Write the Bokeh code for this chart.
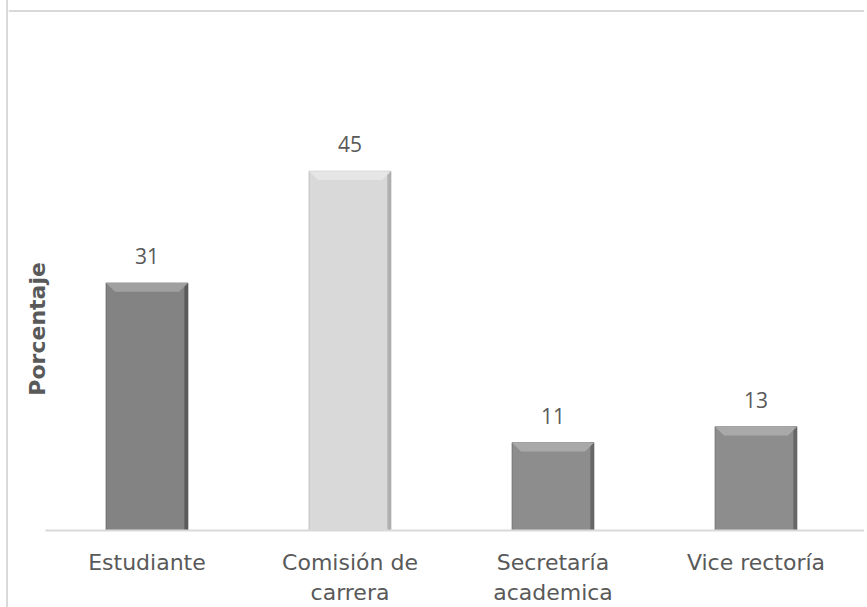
from bokeh.plotting import figure
from bokeh.models import ColumnDataSource, LabelSet, Label, Range1d, FixedTicker, Span
from bokeh.embed import file_html
from bokeh.resources import INLINE
from bokeh.core.properties import value

categories = ["Estudiante", "Comisión de\ncarrera", "Secretaría\nacademica", "Vice rectoría"]
values = [31, 45, 11, 13]
colors = ["#838383", "#d9d9d9", "#8d8d8d", "#8d8d8d"]
top_colors = ["#a0a0a0", "#e6e6e6", "#a9a9a9", "#a9a9a9"]
edge_colors = ["#555555", "#a8a8a8", "#606060", "#606060"]
axis_label = "Porcentaje"

xs = [i + 0.5 for i in range(len(categories))]
bar_w = 0.404
bev_y = 1.1          # bevel height (value units)
bev_x = 9 / 203      # bevel inset (category units)

src = ColumnDataSource(dict(
    x=xs, top=values, color=colors, ecolor=edge_colors,
    eleft=[x + bar_w / 2 - 0.018 for x in xs],
    right=[x + bar_w / 2 for x in xs],
    label=[str(v) for v in values],
))
bev = ColumnDataSource(dict(
    xs=[[x - bar_w / 2, x + bar_w / 2, x + bar_w / 2 - bev_x, x - bar_w / 2 + bev_x] for x in xs],
    ys=[[v, v, v - bev_y, v - bev_y] for v in values],
    color=top_colors,
))

W = 858
x0 = -37 / 203
x1 = x0 + W / 203
y1 = 522 / 8
p = figure(width=W, height=607, output_backend="svg", toolbar_location=None,
           x_range=Range1d(x0, x1), y_range=Range1d(0, y1),
           min_border_left=0, min_border_right=0, min_border_top=9,
           min_border_bottom=76)
p.styles = {"margin-left": "6px", "border-left": "2px solid #d9d9d9"}

p.vbar(x="x", top="top", bottom=0, width=bar_w, fill_color="color",
       line_color="ecolor", line_width=1, line_alpha=0.6, source=src)
p.quad(left="eleft", right="right", top="top", bottom=0,
       fill_color="ecolor", line_color=None, fill_alpha=0.85, source=src)
p.patches(xs="xs", ys="ys", fill_color="color", line_color=None, source=bev)

labels = LabelSet(x="x", y="top", text="label", source=src, y_offset=19,
                  text_align="center", text_baseline="alphabetic",
                  text_font=value("Open Sans"), text_font_size="21px",
                  text_color="#595959")
p.add_layout(labels)

p.add_layout(Label(x=(37 - 45) / 203, y=(531 - 329) / 8,
                   text=axis_label, angle=1.5708, text_align="center",
                   text_baseline="middle", text_font="DejaVu Sans",
                   text_font_style="bold", text_font_size="22px",
                   text_color="#595959"))

# chart-area border (top)
p.add_layout(Span(location=y1 - 1.5 / 8, dimension="width",
                  line_color="#d9d9d9", line_width=2))

p.xaxis.ticker = FixedTicker(ticks=xs)
p.xaxis.major_label_overrides = {x: c for x, c in zip(xs, categories)}
p.xaxis.bounds = (0, x1)
p.xaxis.major_tick_line_color = None
p.xaxis.minor_tick_line_color = None
p.xaxis.axis_line_color = "#d9d9d9"
p.xaxis.axis_line_width = 2
p.xaxis.major_label_text_font = "DejaVu Sans"
p.xaxis.major_label_text_font_size = "22px"
p.xaxis.major_label_text_color = "#595959"
p.xaxis.major_label_standoff = 13

p.yaxis.visible = False
p.xgrid.visible = False
p.ygrid.visible = False
p.outline_line_color = None

open("out.html", "w").write(file_html(p, INLINE))
